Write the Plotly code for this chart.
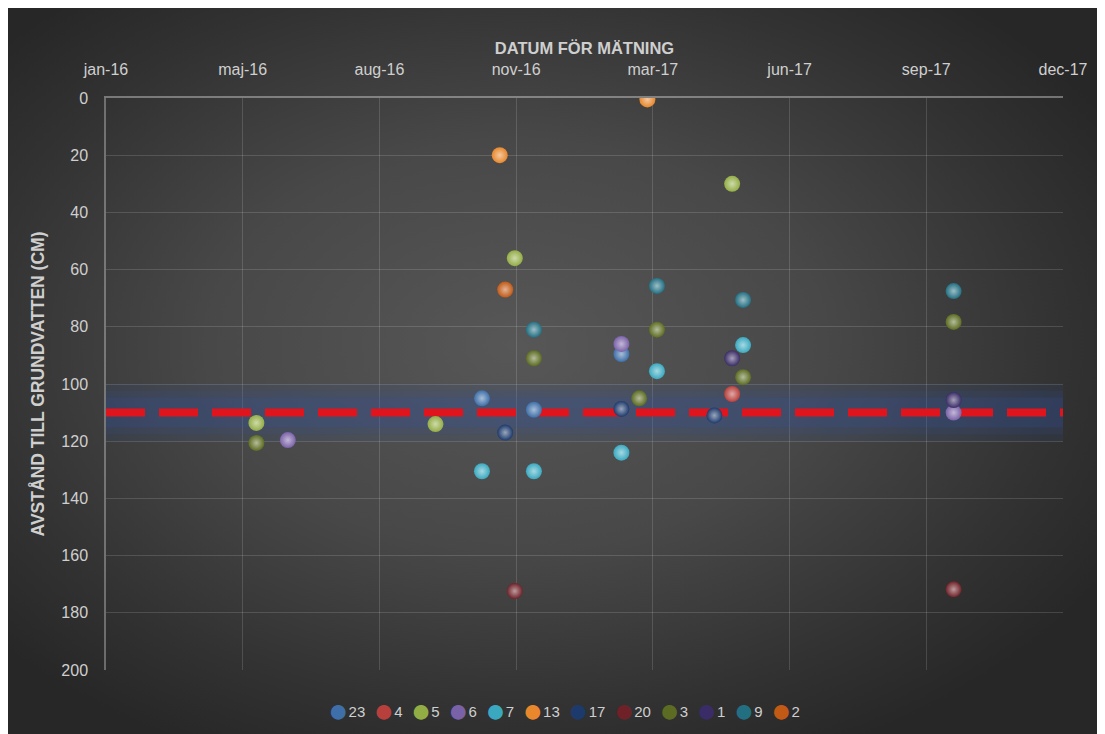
import base64
import plotly.graph_objects as go

# ---------------- data ----------------
tick_dates = ["2016-01-31", "2016-05-10", "2016-08-18", "2016-11-26",
              "2017-03-06", "2017-06-14", "2017-09-22", "2017-12-31"]
tick_labels = ["jan-16", "maj-16", "aug-16", "nov-16",
               "mar-17", "jun-17", "sep-17", "dec-17"]
y_ticks = [0, 20, 40, 60, 80, 100, 120, 140, 160, 180, 200]

series_names = ["23", "4", "5", "6", "7", "13", "17", "20", "3", "1", "9", "2"]

s23_dates = ["2016-11-01", "2016-12-09", "2017-02-11"]
s23_vals = [105, 109, 89.5]
s4_dates = ["2017-05-03"]
s4_vals = [103.5]
s5_dates = ["2016-05-20", "2016-09-28", "2016-11-25", "2017-05-03"]
s5_vals = [113.6, 114, 56, 30]
s6_dates = ["2016-06-12", "2017-02-11", "2017-10-12"]
s6_vals = [119.6, 86, 110]
s7_dates = ["2016-11-01", "2016-12-09", "2017-02-11", "2017-03-09", "2017-05-11"]
s7_vals = [130.5, 130.5, 124, 95.5, 86.4]
s13_dates = ["2016-11-14", "2017-03-02"]
s13_vals = [20, 0.5]
s17_dates = ["2016-11-18", "2017-02-11", "2017-04-20"]
s17_vals = [117, 108.7, 111]
s20_dates = ["2016-11-25", "2017-10-12"]
s20_vals = [172.4, 171.8]
s3_dates = ["2016-05-20", "2016-12-09", "2017-02-24", "2017-03-09", "2017-05-11", "2017-10-12"]
s3_vals = [120.6, 91, 105, 81, 97.6, 78.3]
s1_dates = ["2017-05-03", "2017-10-12"]
s1_vals = [91, 105.6]
s9_dates = ["2016-12-09", "2017-03-09", "2017-05-11", "2017-10-12"]
s9_vals = [81, 65.7, 70.6, 67.5]
s2_dates = ["2016-11-18"]
s2_vals = [67]

ref_level = 110
x_range = ["2016-01-31", "2017-12-31"]

# ---------------- styles ----------------
series_colors = ["#3f6fa8", "#b8403c", "#93ad45", "#7a62a8", "#3aa9c0", "#e8872c",
                 "#1d3a6c", "#6e2228", "#5c6c22", "#3a2c66", "#236f82", "#c25a16"]

series_data = [
    (s23_dates, s23_vals), (s4_dates, s4_vals), (s5_dates, s5_vals),
    (s6_dates, s6_vals), (s7_dates, s7_vals), (s13_dates, s13_vals),
    (s17_dates, s17_vals), (s20_dates, s20_vals), (s3_dates, s3_vals),
    (s1_dates, s1_vals), (s9_dates, s9_vals), (s2_dates, s2_vals),
]


def lighten(hex_color, f):
    h = hex_color.lstrip("#")
    r, g, b = int(h[0:2], 16), int(h[2:4], 16), int(h[4:6], 16)
    r = int(r + (255 - r) * f)
    g = int(g + (255 - g) * f)
    b = int(b + (255 - b) * f)
    return f"rgb({r},{g},{b})"


FONT = "Liberation Sans, Arial, sans-serif"
TXT = "#cfcfcf"

fig = go.Figure()

# glow band behind the reference line
for w, a in [(58, 0.10), (44, 0.14), (30, 0.18)]:
    fig.add_trace(go.Scatter(
        x=x_range, y=[ref_level, ref_level], mode="lines",
        line=dict(color=f"rgba(50,85,165,{a})", width=w),
        showlegend=False, hoverinfo="skip"))

# red dashed reference line
fig.add_trace(go.Scatter(
    x=x_range, y=[ref_level, ref_level], mode="lines",
    line=dict(color="#e0141c", width=8, dash="39px,14px"),
    showlegend=False, hoverinfo="skip"))

for name, col, (dts, vals) in zip(series_names, series_colors, series_data):
    fig.add_trace(go.Scatter(
        x=dts, y=vals, mode="markers", name=name, showlegend=False,
        marker=dict(size=16, color=col,
                    gradient=dict(type="radial", color=lighten(col, 0.55)),
                    line=dict(width=0))))

# compact legend built as text
legend_parts = []
for name, col in zip(series_names, series_colors):
    legend_parts.append(
        f"<span style='color:{col};font-size:34px'>●</span>"
        f"<span style='font-size:15px;baseline-shift:5px'>{name}</span>")
legend_text = "<span style='font-size:15px'>&nbsp;&nbsp;</span>".join(legend_parts)

# background gradient (svg)
svg = """<svg xmlns='http://www.w3.org/2000/svg' width='1105' height='734' viewBox='0 0 1105 734' preserveAspectRatio='none'>
<defs><radialGradient id='g' cx='46%' cy='46%' r='62%'>
<stop offset='0' stop-color='#575757'/>
<stop offset='0.45' stop-color='#484848'/>
<stop offset='0.8' stop-color='#323232'/>
<stop offset='1' stop-color='#272727'/>
</radialGradient></defs>
<rect width='1105' height='734' fill='url(#g)'/></svg>"""
src = "data:image/svg+xml;base64," + base64.b64encode(svg.encode()).decode()

L, R, T, B = 98, 50, 90, 72
W, H = 1105, 734
pw, ph = W - L - R, H - T - B

fig.add_layout_image(dict(
    source=src, xref="paper", yref="paper",
    x=-L / pw, y=1 + T / ph,
    sizex=W / pw, sizey=H / ph,
    xanchor="left", yanchor="top", sizing="stretch", layer="below"))

fig.add_annotation(
    text=legend_text, xref="paper", yref="paper", x=0.479, y=-40 / ph,
    xanchor="center", yanchor="middle", showarrow=False,
    font=dict(family=FONT, size=15, color=TXT))

fig.update_layout(
    width=W, height=H,
    margin=dict(l=L, r=R, t=T, b=B),
    paper_bgcolor="#2b2b2b",
    plot_bgcolor="rgba(0,0,0,0)",
    font=dict(family=FONT, color=TXT, size=16),
    showlegend=False,
    xaxis=dict(
        type="date", side="top", range=x_range,
        tickmode="array", tickvals=tick_dates, ticktext=tick_labels,
        showgrid=True, gridcolor="rgba(255,255,255,0.14)", gridwidth=1,
        showline=True, linecolor="rgba(255,255,255,0.35)", linewidth=1.5,
        ticks="outside", ticklen=15, tickcolor="rgba(0,0,0,0)",
        tickfont=dict(size=16, color=TXT),
        title=dict(text="<b>DATUM FÖR MÄTNING</b>", font=dict(size=16.5, color=TXT), standoff=2),
        zeroline=False),
    yaxis=dict(
        range=[200, 0], tickmode="array", tickvals=y_ticks,
        showgrid=True, gridcolor="rgba(255,255,255,0.14)", gridwidth=1,
        showline=True, linecolor="rgba(255,255,255,0.3)", linewidth=1.5,
        ticks="outside", ticklen=13, tickcolor="rgba(0,0,0,0)",
        tickfont=dict(size=16, color=TXT),
        title=dict(text="<b>AVSTÅND TILL GRUNDVATTEN (CM)</b>", font=dict(size=17.5, color=TXT), standoff=12),
        zeroline=False),
)

fig.write_html("out.html")
